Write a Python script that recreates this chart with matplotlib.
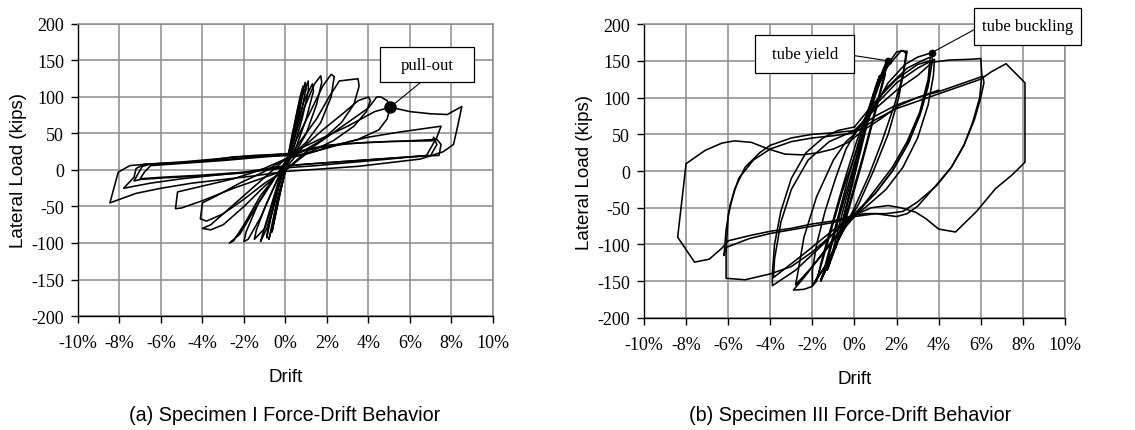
import matplotlib.pyplot as plt
from matplotlib.patches import Rectangle

# ---- data: drift (%) vs lateral load (kips) ----
# Specimen I : pinched hysteresis cycles
s1_cycles = [
    [(0, 0), (0.3, 45), (0.6, 85), (0.75, 100), (0.7, 85), (0.4, 45), (0.1, 10), (-0.2, -25), (-0.5, -65),
     (-0.65, -85), (-0.55, -70), (-0.3, -35), (0, 0)],
    [(0, 0), (0.35, 50), (0.7, 100), (0.85, 115), (0.8, 100), (0.5, 55), (0.1, 12), (-0.3, -35), (-0.6, -75),
     (-0.8, -95), (-0.7, -82), (-0.4, -40), (0, 0)],
    [(0, 2), (0.3, 40), (0.7, 90), (0.95, 120), (1.0, 112), (0.8, 85), (0.4, 40), (0, 12), (-0.3, -20),
     (-0.7, -65), (-0.9, -93), (-0.85, -80), (-0.5, -40), (-0.2, -8), (0, 5)],
    [(0, 5), (0.4, 50), (0.8, 100), (1.1, 122), (1.1, 108), (0.8, 70), (0.4, 30), (0, 8), (-0.4, -30),
     (-0.9, -80), (-1.2, -98), (-1.1, -88), (-0.7, -50), (-0.3, -12), (0, 4)],
    [(0, 4), (0.5, 55), (0.9, 95), (1.3, 118), (1.35, 108), (1.0, 70), (0.5, 30), (0, 8), (-0.5, -35),
     (-1.0, -80), (-1.5, -95), (-1.4, -82), (-0.9, -45), (-0.3, -8), (0, 4)],
    [(0, 4), (0.4, 40), (0.9, 85), (1.4, 118), (1.7, 129), (1.75, 120), (1.5, 90), (1.0, 50), (0.5, 25),
     (0, 10), (-0.5, -20), (-1.2, -65), (-1.8, -95), (-2.0, -98), (-1.9, -85), (-1.3, -45), (-0.6, -12), (0, 5)],
    [(0, 5), (0.5, 40), (1.2, 80), (1.8, 115), (2.2, 131), (2.35, 128), (2.2, 100), (1.7, 65), (1.0, 38),
     (0.3, 20), (0, 12), (-0.6, -15), (-1.4, -50), (-2.2, -88), (-2.7, -100), (-2.5, -97), (-2.0, -75),
     (-1.2, -35), (-0.5, -10), (0, 3)],
    [(0, 3), (0.6, 35), (1.5, 70), (2.1, 100), (2.6, 122), (3.5, 125), (3.55, 115), (3.3, 90), (2.7, 65),
     (1.8, 42), (0.8, 25), (0, 15), (-0.8, -5), (-1.8, -30), (-2.8, -55), (-3.6, -75), (-4.0, -80),
     (-3.6, -82), (-3.0, -75), (-2.0, -50), (-1.0, -22), (0, 2)],
    [(0, 2), (0.8, 30), (1.8, 55), (2.8, 78), (3.5, 95), (4.0, 100), (4.1, 95), (3.9, 80), (3.3, 60),
     (2.3, 40), (1.2, 25), (0, 15), (-1.0, -2), (-2.2, -18), (-3.3, -35), (-4.0, -45), (-4.1, -67),
     (-3.8, -70), (-3.0, -60), (-2.0, -40), (-1.0, -18), (0, 0)],
    [(0, 0), (1, 25), (2, 45), (3, 65), (4, 85), (4.4, 100), (4.6, 100), (4.9, 95), (5.05, 86), (4.9, 70),
     (4.5, 55), (3.5, 42), (2.0, 30), (1.0, 22), (0, 15), (-1.2, 0), (-2.5, -12), (-4, -22), (-5.2, -30),
     (-5.3, -53), (-5.0, -52), (-4.0, -42), (-2.5, -25), (-1.0, -10), (0, 0)],
    [(0, 0), (1, 22), (2.5, 35), (4, 45), (5.5, 52), (7, 58), (7.5, 60), (7.3, 45), (7.0, 30), (6.8, 20),
     (5, 15), (3, 10), (1.5, 6), (0, 3), (-1.5, -2), (-3, -6), (-5, -12), (-6.5, -18), (-7.8, -25),
     (-7.3, -10), (-7.2, 2), (-6.8, 8), (-5, 10), (-3, 14), (-1.5, 18), (0, 20)],
    [(0, 20), (1.5, 30), (3, 36), (5, 39), (7.1, 40), (7.14, 45), (7.3, 35), (7.0, 20), (5, 16), (3, 12),
     (1, 8), (0, 5), (-2, -4), (-4, -8), (-6, -11), (-7.0, -13), (-7.3, -15), (-7.1, -5), (-6.9, 5),
     (-6.5, 8), (-4, 12), (-2.5, 18), (-1, 20), (0, 22)],
    [(0, 22), (2, 34), (4, 38), (6, 40), (7.3, 42), (7.5, 35), (7.4, 20), (6, 18), (4, 14), (2, 10), (0, 6),
     (-2, -3), (-4, -7), (-6, -10), (-7.0, -12), (-6.8, -3), (-6.5, 6), (-5, 9), (-3, 13), (-1, 18), (0, 20)],
    [(0, 20), (1.5, 40), (3, 60), (4.3, 80), (5.05, 86), (6.0, 80), (7.0, 77), (7.8, 76), (8.5, 87),
     (8.3, 60), (8.1, 35), (7.6, 25), (6.5, 15), (5, 10), (3.5, 5), (2, 2), (0, -2), (-1.5, -8), (-3, -13),
     (-4.5, -18), (-6, -25), (-7.2, -32), (-8.46, -45), (-8.06, -3), (-7.5, 6), (-6.7, 8), (-5, 11),
     (-3, 16), (-1.5, 20), (0, 22)],
]
s1_pullout = (5.05, 86)

# Specimen III : fuller loops
s3_cycles = [
    [(0, 0), (0.4, 45), (0.8, 95), (0.9, 105), (0.7, 80), (0.2, 20), (-0.3, -40), (-0.8, -95), (-0.9, -105),
     (-0.7, -85), (-0.2, -25), (0, 0)],
    [(0, 0), (0.5, 60), (1.0, 115), (1.2, 130), (1.0, 110), (0.4, 40), (-0.2, -30), (-0.8, -95), (-1.3, -135),
     (-1.2, -128), (-0.6, -60), (0, 5)],
    [(0, 5), (0.6, 75), (1.2, 125), (1.58, 150), (1.5, 140), (1.0, 85), (0.4, 20), (-0.3, -50), (-1.0, -110),
     (-1.6, -150), (-1.5, -140), (-0.9, -75), (-0.3, -10), (0.3, 50), (0.9, 105), (1.5, 148), (1.45, 130),
     (0.9, 70), (0.3, 5), (-0.4, -65), (-1.1, -120), (-1.6, -148), (-1.4, -135), (-0.8, -70), (0, 10)],
    [(0, 10), (0.6, 70), (1.2, 120), (1.7, 150), (2.0, 162), (2.3, 164), (2.45, 160), (2.3, 130), (1.9, 90),
     (1.3, 40), (0.7, -5), (0, -50), (-0.7, -90), (-1.4, -130), (-2.0, -156), (-1.8, -150), (-1.5, -115),
     (-1.0, -65), (-0.5, -15), (0.1, 40), (0.8, 95), (1.5, 140), (2.2, 163), (2.5, 163), (2.4, 145),
     (2.1, 100), (1.6, 50), (0.9, 0), (0.2, -45), (-0.6, -85), (-1.3, -125), (-1.9, -152), (-1.7, -140),
     (-1.2, -90), (-0.6, -30), (0, 20)],
    [(0, 20), (0.8, 80), (1.6, 120), (2.4, 145), (3.0, 155), (3.67, 161), (3.7, 150), (3.5, 115), (3.1, 75),
     (2.5, 35), (1.8, 0), (1.0, -30), (0, -60), (-0.8, -85), (-1.6, -115), (-2.4, -145), (-2.9, -162),
     (-2.4, -161), (-2.0, -157), (-2.0, -135), (-1.8, -100), (-1.4, -55), (-0.9, -10), (-0.4, 30), (0, 50),
     (0.8, 85), (1.6, 115), (2.5, 140), (3.2, 150), (3.6, 155), (3.5, 125), (3.1, 80), (2.5, 40), (1.8, 5),
     (1.0, -25), (0, -62), (-1.0, -95), (-2.0, -130), (-2.8, -155), (-2.7, -140), (-2.4, -90), (-1.8, -35),
     (-1.0, 15), (-0.4, 40), (0, 50)],
    [(0, 50), (1, 90), (2, 120), (3, 140), (3.8, 152), (3.75, 130), (3.5, 90), (3.0, 45), (2.3, 5), (1.5, -25),
     (0.5, -50), (-0.5, -70), (-1.5, -100), (-2.8, -135), (-3.9, -156), (-3.9, -140), (-3.8, -100),
     (-3.5, -55), (-3.0, -10), (-2.3, 25), (-1.5, 45), (-0.8, 55), (0, 60)],
    [(0, 60), (1, 95), (2, 125), (3, 145), (3.6, 150), (3.55, 125), (3.2, 85), (2.6, 40), (1.8, 0), (1, -30),
     (0, -58), (-1, -80), (-2.5, -115), (-3.85, -145), (-3.8, -120), (-3.5, -70), (-3.0, -25), (-2.2, 15),
     (-1.2, 40), (0, 55)],
    [(0, 55), (1, 85), (2, 110), (3, 130), (3.7, 148), (4.5, 151), (5.5, 152), (6.0, 153), (6.05, 130),
     (5.95, 100), (5.6, 65), (5.2, 35), (4.6, 5), (3.9, -20), (3.0, -42), (2.3, -55), (1.5, -58), (0.5, -58),
     (0, -60), (-1, -85), (-2, -110), (-3, -130), (-4, -140), (-5.2, -148), (-6.1, -146), (-6.1, -110),
     (-6.0, -60), (-5.7, -25), (-5.2, 5), (-4.5, 25), (-4.0, 35), (-3.0, 45), (-2.0, 50), (-1, 52), (0, 55)],
    [(0, 55), (1, 75), (2, 90), (3, 100), (4, 108), (5, 118), (6.1, 129), (6.15, 120), (6.0, 100), (5.7, 70),
     (5.2, 35), (4.6, 5), (3.8, -22), (3.0, -48), (2.5, -58), (2.0, -62), (1.5, -60), (1.0, -58), (0, -62),
     (-1, -70), (-2, -75), (-3, -80), (-4, -85), (-5, -92), (-6.1, -104), (-6.2, -115), (-6.1, -80),
     (-5.9, -45), (-5.5, -10), (-4.8, 15), (-4, 30), (-3, 40), (-2, 45), (-1, 48), (0, 52)],
    [(0, 52), (1, 70), (2, 85), (3, 95), (4, 105), (5, 115), (6, 125), (6.5, 135), (7.2, 146), (8.1, 120),
     (8.1, 12), (7.5, -5), (6.7, -24), (5.8, -55), (4.8, -83), (4.0, -79), (3.4, -65), (2.9, -56), (2.2, -50),
     (1.6, -47), (0.8, -50), (0, -60), (-1, -68), (-2, -72), (-3, -78), (-4, -82), (-5, -88), (-6.0, -95),
     (-6.3, -105), (-6.9, -120), (-7.6, -124), (-8.4, -90), (-8.0, 10), (-7.1, 28), (-6.3, 38), (-5.7, 41),
     (-4.9, 39), (-4.1, 30), (-3.3, 23), (-2.5, 22), (-1.7, 25), (-1.0, 30), (-0.3, 39), (0.5, 57),
     (1.3, 72), (2.1, 89), (3, 100), (4, 110)],
]
s3_yield = (1.58, 150)
s3_buckling = (3.67, 161)

x_ticks = [-10, -8, -6, -4, -2, 0, 2, 4, 6, 8, 10]
y_ticks = [-200, -150, -100, -50, 0, 50, 100, 150, 200]

serif = 'Liberation Serif'
sans = 'Liberation Sans'


def setup_axes(ax):
    ax.set_xlim(-10, 10)
    ax.set_ylim(-200, 200)
    ax.set_xticks(x_ticks)
    ax.set_yticks(y_ticks)
    ax.set_xticklabels([f'{t}%' for t in x_ticks], family=serif, fontsize=13)
    ax.set_yticklabels([str(t) for t in y_ticks], family=serif, fontsize=13)
    ax.grid(True, color='#8c8c8c', lw=1.1)
    ax.set_axisbelow(True)
    for s in ['top', 'right']:
        ax.spines[s].set_color('#8c8c8c')
        ax.spines[s].set_linewidth(1.1)
    for s in ['left', 'bottom']:
        ax.spines[s].set_color('black')
        ax.spines[s].set_linewidth(1.0)
    ax.tick_params(direction='out', length=5, width=1)
    ax.tick_params(axis='x', pad=8)
    ax.tick_params(axis='y', pad=5)
    ax.set_xlabel('Drift', family=sans, fontsize=13.5, labelpad=12)
    ax.set_ylabel('Lateral Load (kips)', family=sans, fontsize=13.5, labelpad=3)


def draw_cycles(ax, cycles):
    for cyc in cycles:
        xs = [p[0] for p in cyc]
        ys = [p[1] for p in cyc]
        ax.plot(xs, ys, color='black', lw=1.15, solid_joinstyle='round')


def label_box(ax, x0, y0, w, h, text):
    ax.add_patch(Rectangle((x0, y0), w, h, facecolor='white', edgecolor='black', lw=0.9,
                           clip_on=False, zorder=5))
    ax.text(x0 + w / 2, y0 + h / 2, text, family=serif, fontsize=12, ha='center', va='center', zorder=6)


fig = plt.figure(figsize=(11.35, 4.31), dpi=100)
ax1 = fig.add_axes([0.0687, 0.2645, 0.3656, 0.6775])
ax2 = fig.add_axes([0.5674, 0.2599, 0.3709, 0.6820])

# (a) Specimen I
setup_axes(ax1)
draw_cycles(ax1, s1_cycles)
ax1.plot([s1_pullout[0], 6.6], [s1_pullout[1], 122], color='black', lw=0.8)
ax1.plot(*s1_pullout, 'o', color='black', ms=8, zorder=4)
label_box(ax1, 4.55, 121, 4.55, 47, 'pull-out')

# (b) Specimen III
setup_axes(ax2)
draw_cycles(ax2, s3_cycles)
ax2.plot([0.0, s3_yield[0]], [157, s3_yield[1]], color='black', lw=0.8)
ax2.plot([5.73, s3_buckling[0]], [193, s3_buckling[1]], color='black', lw=0.8)
ax2.plot(*s3_yield, 'o', color='black', ms=4.5, zorder=4)
ax2.plot(*s3_buckling, 'o', color='black', ms=4.5, zorder=4)
label_box(ax2, -4.72, 133, 4.72, 52, 'tube yield')
label_box(ax2, 5.7, 172, 5.07, 50, 'tube buckling')

fig.text(0.251, 0.037, '(a) Specimen I Force-Drift Behavior', family=sans, fontsize=14.2,
         ha='center', va='center')
fig.text(0.749, 0.037, '(b) Specimen III Force-Drift Behavior', family=sans, fontsize=14.2,
         ha='center', va='center')

fig.savefig('out.png', dpi=100)
